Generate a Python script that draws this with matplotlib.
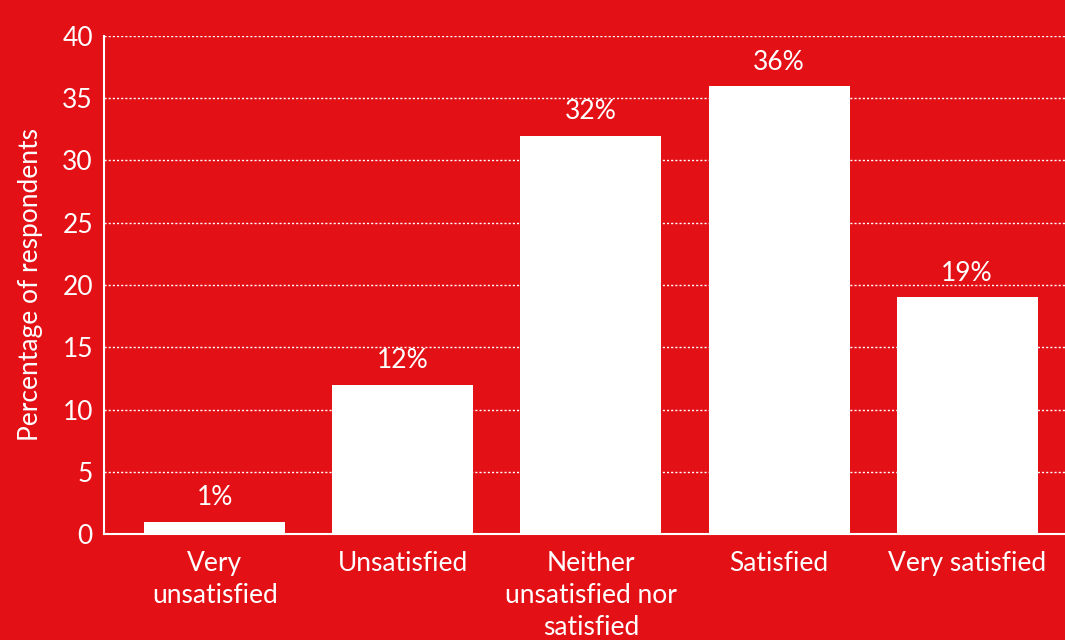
import matplotlib.pyplot as plt

categories = ["Very\nunsatisfied", "Unsatisfied", "Neither\nunsatisfied nor\nsatisfied",
              "Satisfied", "Very satisfied"]
values = [1, 12, 32, 36, 19]
yticks = [0, 5, 10, 15, 20, 25, 30, 35, 40]

red = "#E31016"
plt.rcParams['font.family'] = ['Lato', 'DejaVu Sans']

fig = plt.figure(figsize=(10.65, 6.4), dpi=100, facecolor=red)
ax = fig.add_axes([0.0977, 0.1656, 0.9023, 0.7782], facecolor=red)

# white bars with the share written above each one
x = range(len(values))
bars = ax.bar(x, values, width=0.75, color="white", zorder=3)
for xi, v in zip(x, values):
    ax.text(xi, v + 0.9, f"{v}%", ha="center", va="bottom", color="white", fontsize=19)

ax.set_xlim(-0.588, 4.52)
ax.set_ylim(0, 40)
ax.set_yticks(yticks)
ax.set_xticks(list(x))
ax.set_xticklabels(categories, color="white", fontsize=19, linespacing=1.35)
ax.tick_params(axis="y", colors="white", labelsize=19, length=0, pad=8)
ax.tick_params(axis="x", length=0, pad=12)
ax.grid(axis="y", color="white", linestyle=(0, (1.5, 1.5)), linewidth=1, zorder=0)

for side in ["top", "right"]:
    ax.spines[side].set_visible(False)
for side in ["left", "bottom"]:
    ax.spines[side].set_color("white")
    ax.spines[side].set_linewidth(1.5)

ax.set_ylabel("Percentage of respondents", color="white", fontsize=19, labelpad=14)

fig.savefig("out.png", dpi=100, facecolor=red)
